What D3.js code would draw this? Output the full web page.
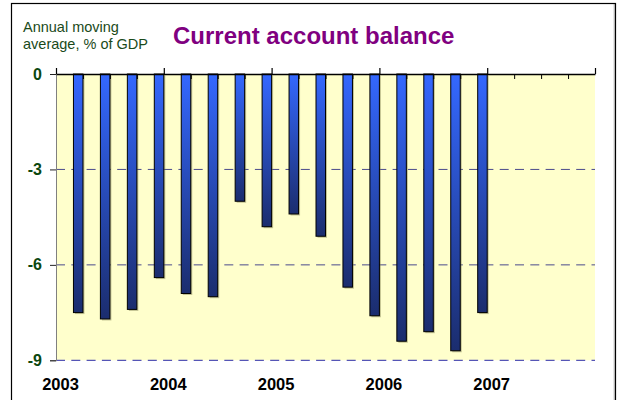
<!DOCTYPE html>
<html>
<head>
<meta charset="utf-8">
<script src="https://cdn.jsdelivr.net/npm/d3@7/dist/d3.min.js"></script>
<style>
  html, body { margin: 0; padding: 0; background: #fff; }
  svg { display: block; }
  text { font-family: "Liberation Sans", Arial, sans-serif; }
</style>
</head>
<body>
<svg id="chart" width="618" height="400"></svg>
<script>
// Quarterly current account balance, annual moving average, % of GDP
const quarters = ["2003Q1","2003Q2","2003Q3","2003Q4",
                  "2004Q1","2004Q2","2004Q3","2004Q4",
                  "2005Q1","2005Q2","2005Q3","2005Q4",
                  "2006Q1","2006Q2","2006Q3","2006Q4"];
const balance = [-7.5, -7.7, -7.4, -6.4,
                 -6.9, -7.0, -4.0, -4.8,
                 -4.4, -5.1, -6.7, -7.6,
                 -8.4, -8.1, -8.7, -7.5];
const years = ["2003", "2004", "2005", "2006", "2007"];
const yTicks = [0, -3, -6, -9];

const svg = d3.select("#chart");
const W = 618, H = 400;
const plotL = 56, plotR = 595, plotT = 74, plotB = 360.3;
const nQ = years.length * 4;          // quarter slots on the time axis
const barW = 9.5;

const x = d3.scaleLinear().domain([0, nQ]).range([plotL, plotR]);
const y = d3.scaleLinear().domain([-9, 0]).range([plotB, plotT]);

// background and frame
svg.append("rect").attr("width", W).attr("height", H).attr("fill", "#fff");
svg.append("line").attr("x1", 614.2).attr("x2", 614.2).attr("y1", 4).attr("y2", H)
  .attr("stroke", "#b0b0b0").attr("stroke-width", 1);
svg.append("rect").attr("x", 11.5).attr("y", 3.5).attr("width", 604).attr("height", 420)
  .attr("fill", "none").attr("stroke", "#000").attr("stroke-width", 1.2);

// plot area
svg.append("rect").attr("x", plotL).attr("y", plotT)
  .attr("width", plotR - plotL).attr("height", plotB - plotT)
  .attr("fill", "#FFFFCC");

// dashed gridlines
svg.append("g").selectAll("line").data(yTicks.filter(d => d !== 0)).join("line")
  .attr("x1", plotL).attr("x2", plotR)
  .attr("y1", d => y(d)).attr("y2", d => y(d))
  .attr("stroke", d => d === -9 ? "#2B2BA8" : "#4A4A8C").attr("stroke-width", 1)
  .attr("stroke-dasharray", "9,6.3");

// bar gradient
const defs = svg.append("defs");
const grad = defs.append("linearGradient").attr("id", "barGrad")
  .attr("x1", 0).attr("y1", 0).attr("x2", 0).attr("y2", 1);
grad.append("stop").attr("offset", "0%").attr("stop-color", "#3468FF");
grad.append("stop").attr("offset", "100%").attr("stop-color", "#1B2D6E");

// shadows
svg.append("g").selectAll("rect").data(balance).join("rect")
  .attr("x", (d, i) => x(i + 1) - barW + 1.5)
  .attr("y", y(0) + 1.5)
  .attr("width", barW)
  .attr("height", d => y(d) - y(0))
  .attr("fill", "#77774a").attr("opacity", 0.45);

// bars hanging from zero
svg.append("g").selectAll("rect").data(balance).join("rect")
  .attr("x", (d, i) => x(i + 1) - barW)
  .attr("y", y(0))
  .attr("width", barW)
  .attr("height", d => y(d) - y(0))
  .attr("fill", "url(#barGrad)")
  .attr("stroke", "#000").attr("stroke-width", 1);

// value axis
const yAxis = svg.append("g").attr("transform", `translate(${plotL},0)`)
  .call(d3.axisLeft(y).tickValues(yTicks).tickSize(6).tickPadding(8)
        .tickFormat(d => String(d)));
yAxis.select(".domain").attr("stroke", "#808080");
yAxis.selectAll(".tick line").attr("stroke", "#222");
yAxis.selectAll(".tick text")
  .attr("font-size", "16px").attr("font-weight", "bold")
  .attr("fill", "#0B470F")
  .attr("font-family", "'Liberation Sans', Arial, sans-serif");

// time axis at zero: minor quarter ticks below, year ticks above
const minorTicks = d3.range(0, nQ + 1).filter(i => i % 4 !== 0);
const xMinor = svg.append("g").attr("transform", `translate(0,${y(0)})`)
  .call(d3.axisBottom(x).tickValues(minorTicks).tickSize(5).tickFormat(""));
xMinor.select(".domain").remove();
xMinor.selectAll(".tick line").attr("stroke", "#000");

const xMajor = svg.append("g").attr("transform", `translate(0,${y(0)})`)
  .call(d3.axisTop(x).tickValues(d3.range(0, nQ + 1, 4)).tickSizeInner(6).tickSizeOuter(0).tickFormat(""));
xMajor.select(".domain").attr("stroke", "#000").attr("stroke-width", 1.4);
xMajor.selectAll(".tick line").attr("stroke", "#000").attr("stroke-width", 1.2);

// year labels under the plot
const yearScale = d3.scalePoint().domain(years)
  .range([x(0), x(nQ - 4)]);
const xLabels = svg.append("g").attr("transform", `translate(4,${plotB})`)
  .call(d3.axisBottom(yearScale).tickSize(0).tickPadding(18));
xLabels.select(".domain").remove();
xLabels.selectAll(".tick text")
  .attr("font-size", "16.5px").attr("font-weight", "bold").attr("fill", "#000")
  .attr("font-family", "'Liberation Sans', Arial, sans-serif");

// titles
svg.append("text").attr("x", 173).attr("y", 43.5)
  .attr("font-size", "24px").attr("font-weight", "bold").attr("fill", "#800080")
  .text("Current account balance");
const sub = svg.append("text").attr("x", 23).attr("y", 31.5)
  .attr("font-size", "14.5px").attr("fill", "#1A4A1A");
sub.append("tspan").attr("x", 23).attr("dy", 0).text("Annual moving");
sub.append("tspan").attr("x", 23).attr("dy", 17).text("average, % of GDP");
</script>
</body>
</html>
